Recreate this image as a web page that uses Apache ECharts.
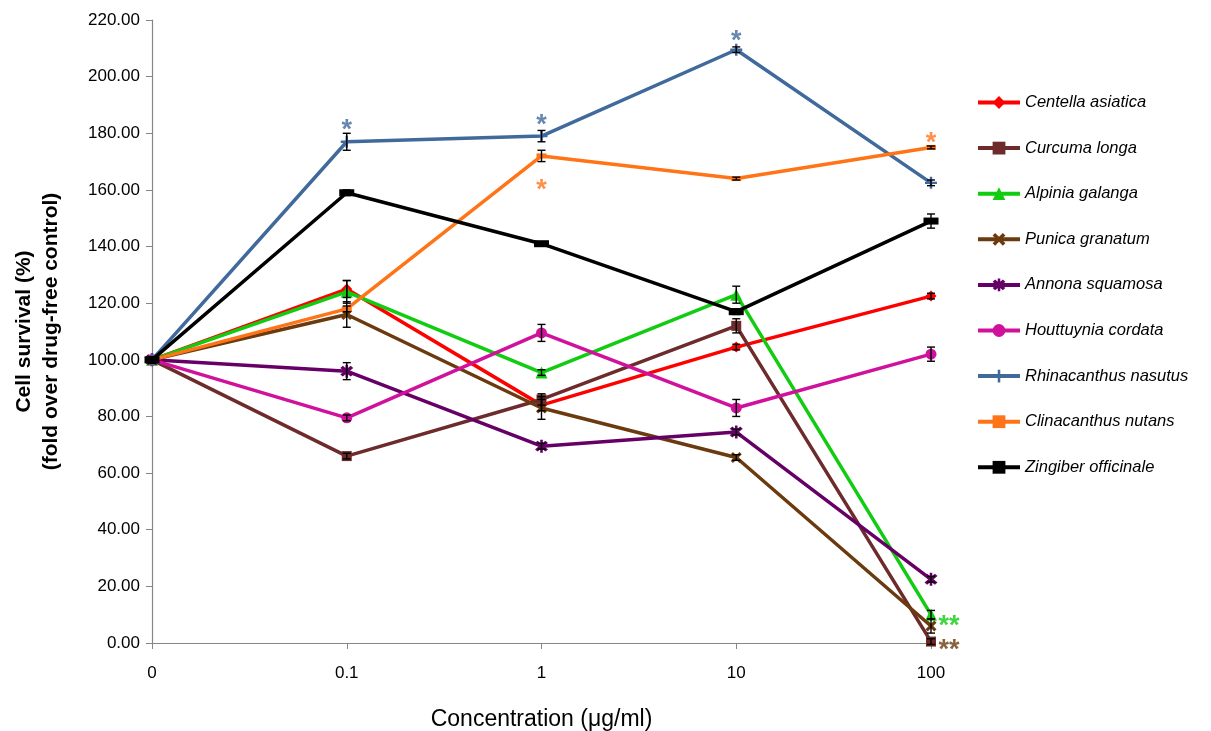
<!DOCTYPE html>
<html><head><meta charset="utf-8">
<script src="https://cdn.jsdelivr.net/npm/echarts@6/dist/echarts.min.js"></script>
<style>html,body{margin:0;padding:0;background:#fff}#c{width:1211px;height:731px}</style>
</head><body><div id="c"></div>
<script>
var categories = ['0', '0.1', '1', '10', '100'];
var yTicks = {min: 0, max: 220, interval: 20};

var names = ['Centella asiatica','Curcuma longa','Alpinia galanga','Punica granatum','Annona squamosa','Houttuynia cordata','Rhinacanthus nasutus','Clinacanthus nutans','Zingiber officinale'];

var centella    = [100, 125, 84, 104.5, 122.5];
var curcuma     = [100, 66, 86, 112, 0.5];
var alpinia     = [100, 124, 95.5, 123, 10];
var punica      = [100, 116, 83, 65.5, 6];
var annona      = [100, 96, 69.5, 74.5, 22.5];
var houttuynia  = [100, 79.5, 109.5, 83, 102];
var rhinacanthus= [100, 177, 179, 209.5, 162.5];
var clinacanthus= [100, 118, 172, 164, 175];
var zingiber    = [100, 159, 141, 117, 149];

// standard errors (+/-)
var errCentella     = [1, 3, 2, 1, 1];
var errCurcuma      = [1, 1, 2, 2.5, 1];
var errAlpinia      = [1, 4, 1, 3, 1.5];
var errPunica       = [1, 4.5, 4, 1, 2.5];
var errAnnona       = [1, 3, 1, 1, 1];
var errHouttuynia   = [1, 1, 3, 3, 2.5];
var errRhinacanthus = [1, 3, 2, 1, 1];
var errClinacanthus = [1, 1, 2, 0.5, 0.5];
var errZingiber     = [1, 1, 0.5, 1, 2.5];

// significance markers: [category, value, text, seriesIndex]
var sigMarks = [
  ['0.1', 183, '*', 6],
  ['1', 185, '*', 6],
  ['10', 214.5, '*', 6],
  ['1', 162, '*', 7],
  ['100', 178.5, '*', 7],
  ['100', 8, '**', 2],
  ['100', -0.5, '**', 3]
];

var values = [centella, curcuma, alpinia, punica, annona, houttuynia, rhinacanthus, clinacanthus, zingiber];
var errors = [errCentella, errCurcuma, errAlpinia, errPunica, errAnnona, errHouttuynia, errRhinacanthus, errClinacanthus, errZingiber];

var colors = ['#FF0000','#6E2B2B','#11CC11','#6B3A0E','#660066','#D0119C','#40699C','#FF7417','#000000'];
var symX = 'path://M2,0 L5,3 L8,0 L10,2 L7,5 L10,8 L8,10 L5,7 L2,10 L0,8 L3,5 L0,2 Z';
var symAst = 'path://M2,0 L5,3 L8,0 L10,2 L7,5 L10,8 L8,10 L5,7 L2,10 L0,8 L3,5 L0,2 Z M4,-1 H6 V11 H4 Z';
var symPlus = 'path://M4,0 H6 V4 H10 V6 H6 V10 H4 V6 H0 V4 H4 Z';
var symbols = ['diamond','rect','triangle',symX,symAst,'circle',symPlus,'rect','rect'];
var symSizes = [11, 10, 12, 11, 13, 11, 12, [10,5], [15,7]];

var series = [];
values.forEach(function (v, i) {
  series.push({
    name: names[i], type: 'line', data: v,
    symbol: symbols[i], symbolSize: symSizes[i], showAllSymbol: true,
    lineStyle: {color: colors[i], width: 3.5},
    itemStyle: {color: colors[i]},
    z: 2 + i * 0.01
  });
});
errors.forEach(function (e, i) {
  series.push({
    type: 'custom', silent: true, z: 5,
    data: e.map(function (d, k) { return [k, values[i][k] - d, values[i][k] + d]; }),
    renderItem: function (params, api) {
      var lo = api.coord([api.value(0), api.value(1)]);
      var hi = api.coord([api.value(0), api.value(2)]);
      var w = 4;
      var st = {stroke: '#000', lineWidth: 1.4};
      return {type: 'group', children: [
        {type: 'line', shape: {x1: lo[0], y1: lo[1], x2: hi[0], y2: hi[1]}, style: st},
        {type: 'line', shape: {x1: lo[0]-w, y1: lo[1], x2: lo[0]+w, y2: lo[1]}, style: st},
        {type: 'line', shape: {x1: hi[0]-w, y1: hi[1], x2: hi[0]+w, y2: hi[1]}, style: st}
      ]};
    }
  });
});
series.push({
  type: 'scatter', silent: true, symbolSize: 1, z: 6, clip: false,
  itemStyle: {color: 'rgba(0,0,0,0)'},
  data: sigMarks.map(function (m) {
    var isDouble = m[2] === '**';
    return {value: [m[0], m[1]], name: m[2], label: {
      show: true, formatter: m[2], color: colors[m[3]], fontSize: 27,
      fontFamily: 'Liberation Sans', fontWeight: 'bold',
      position: isDouble ? 'right' : 'inside',
      offset: isDouble ? [2, 6] : [0, 6]
    }};
  })
});

var chart = echarts.init(document.getElementById('c'));
chart.setOption({
  animation: false,
  backgroundColor: '#fff',
  grid: {left: 152, right: 280, top: 20, bottom: 88, containLabel: false, outerBoundsMode: 'none'},
  xAxis: {
    type: 'category', data: categories, boundaryGap: false,
    axisLine: {lineStyle: {color: '#868686', width: 1.2}},
    axisTick: {show: true, alignWithLabel: true, length: 6, lineStyle: {color: '#868686'}},
    axisLabel: {color: '#000', fontSize: 17, fontFamily: 'Liberation Sans', margin: 22},
    name: 'Concentration (μg/ml)', nameLocation: 'middle', nameGap: 65,
    nameTextStyle: {color: '#000', fontSize: 23, fontFamily: 'Liberation Sans'},
    splitLine: {show: false}
  },
  yAxis: {
    type: 'value', min: yTicks.min, max: yTicks.max, interval: yTicks.interval,
    axisLine: {show: true, lineStyle: {color: '#868686', width: 1.2}},
    axisTick: {show: true, length: 6, lineStyle: {color: '#868686'}},
    axisLabel: {color: '#000', fontSize: 17, fontFamily: 'Liberation Sans', margin: 12,
      formatter: function (v) { return v.toFixed(2); }},
    splitLine: {show: false},
    name: 'Cell survival (%)\n(fold over drug-free control)', nameLocation: 'middle', nameGap: 87,
    nameTextStyle: {color: '#000', fontSize: 21, fontWeight: 'bold', fontFamily: 'Liberation Sans', lineHeight: 27}
  },
  legend: {
    data: names, orient: 'vertical', left: 971, top: 89, itemGap: 28.6,
    itemWidth: 42, itemHeight: 16,
    lineStyle: {width: 4},
    textStyle: {color: '#000', fontSize: 16.5, fontStyle: 'italic', fontFamily: 'Liberation Sans'}
  },
  series: series
});
</script></body></html>
